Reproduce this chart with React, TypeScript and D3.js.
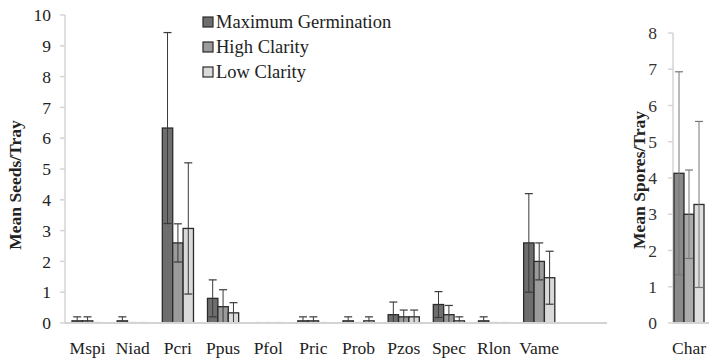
import * as d3 from 'd3'

const CATEGORIES = ['Mspi', 'Niad', 'Pcri', 'Ppus', 'Pfol', 'Pric', 'Prob', 'Pzos', 'Spec', 'Rlon', 'Vame']
const SERIES = ['Maximum Germination', 'High Clarity', 'Low Clarity']

// mean seeds per tray, one array per series
const MAX_GERM = [0.07, 0.07, 6.33, 0.8, 0, 0.07, 0.07, 0.27, 0.6, 0.07, 2.6]
const HIGH_CLAR = [0.07, 0, 2.6, 0.53, 0, 0.07, 0, 0.2, 0.27, 0, 2.0]
const LOW_CLAR = [0, 0, 3.07, 0.33, 0, 0, 0.07, 0.2, 0.07, 0, 1.47]
// error bar half-lengths
const MAX_GERM_ERR = [0.13, 0.13, 3.1, 0.6, 0, 0.13, 0.13, 0.41, 0.42, 0.13, 1.6]
const HIGH_CLAR_ERR = [0.13, 0, 0.62, 0.55, 0, 0.13, 0, 0.22, 0.3, 0, 0.6]
const LOW_CLAR_ERR = [0, 0, 2.13, 0.33, 0, 0, 0.13, 0.22, 0.13, 0, 0.86]

// spores panel
const SPORE_CATEGORIES = ['Char']
const SPORE_VALUES = [4.13, 3.0, 3.27]
const SPORE_ERR = [2.8, 1.22, 2.29]

const SEED_TICKS = [0, 1, 2, 3, 4, 5, 6, 7, 8, 9, 10]
const SPORE_TICKS = [0, 1, 2, 3, 4, 5, 6, 7, 8]

const COLORS = ['#6e6e6e', '#9b9b9b', '#dadada']
const SPORE_COLORS = ['#8a8a8a', '#ababab', '#dedede']
const AXIS = '#d4d4d4'
const txt = { fontFamily: "'Liberation Serif'", fill: '#222' }

type Scale = d3.ScaleLinear<number, number>

function Bars({ x0, vals, errs, ys, colors, inner, errColor }: {
  x0: number; vals: number[]; errs: number[]; ys: Scale; colors: string[]
  inner: d3.ScaleBand<string>; errColor: string
}) {
  const bw = inner.bandwidth()
  return (
    <g>
      {vals.map((v, si) => {
        const bx = x0 + (inner(SERIES[si]) ?? 0)
        if (v === 0) {
          return <line key={si} x1={bx + 2} x2={bx + bw - 2} y1={ys(0) - 0.5} y2={ys(0) - 0.5} stroke="#999" strokeWidth={1.2} />
        }
        const e = errs[si]
        const mx = bx + bw / 2
        return (
          <g key={si}>
            <rect x={bx} y={ys(v)} width={bw} height={ys(0) - ys(v)} fill={colors[si]} stroke="#2a2a2a" strokeWidth={1.3} />
            {e > 0 && (
              <g stroke={errColor}>
                <line x1={mx} x2={mx} y1={ys(v + e)} y2={ys(Math.max(0, v - e))} strokeWidth={1} />
                {[v + e, v - e].filter((ev) => ev > 0).map((ev, k) => (
                  <line key={k} x1={mx - 4} x2={mx + 4} y1={ys(ev)} y2={ys(ev)} strokeWidth={1.2} />
                ))}
              </g>
            )}
          </g>
        )
      })}
    </g>
  )
}

export default function App() {
  const seedValues = [MAX_GERM, HIGH_CLAR, LOW_CLAR]
  const seedErrs = [MAX_GERM_ERR, HIGH_CLAR_ERR, LOW_CLAR_ERR]

  // left panel
  const y = d3.scaleLinear().domain([0, 10]).range([323, 15])
  const x = d3.scaleBand().domain(CATEGORIES).range([65, 561.8])
  const groupW = x.bandwidth() * 0.69
  const xi = d3.scaleBand().domain(SERIES).range([0, groupW])
  const baseEnd = x.range()[1] + x.bandwidth() // one empty slot after Vame

  // right panel
  const y2 = d3.scaleLinear().domain([0, 8]).range([323, 33])
  const x2 = d3.scaleBand().domain(SPORE_CATEGORIES).range([672, 706])
  const xi2 = d3.scaleBand().domain(SERIES).range([0, 30])

  return (
    <svg width={709} height={358} style={{ position: 'absolute', left: 0, top: 0, background: '#fff' }}>
      {/* left y axis */}
      <line x1={65} x2={65} y1={y(10)} y2={y(0)} stroke={AXIS} strokeWidth={1.5} />
      {SEED_TICKS.map((t) => (
        <g key={t}>
          <line x1={60} x2={65} y1={y(t)} y2={y(t)} stroke={AXIS} strokeWidth={1.5} />
          <text x={51} y={y(t)} dy="0.35em" textAnchor="end" fontSize={17.5} style={txt}>{t}</text>
        </g>
      ))}

      {CATEGORIES.map((c, ci) => (
        <g key={c}>
          <Bars
            x0={(x(c) ?? 0) + (x.bandwidth() - groupW) / 2}
            vals={seedValues.map((s) => s[ci])}
            errs={seedErrs.map((s) => s[ci])}
            ys={y} colors={COLORS} inner={xi} errColor="#3a3a3a"
          />
          <text x={(x(c) ?? 0) + x.bandwidth() / 2} y={354} textAnchor="middle" fontSize={17.5} style={txt}>{c}</text>
        </g>
      ))}
      <line x1={65} x2={baseEnd} y1={y(0)} y2={y(0)} stroke={AXIS} strokeWidth={2} />

      <text transform="translate(21,185) rotate(-90)" textAnchor="middle" fontSize={17.5} fontWeight={700} style={txt}>
        Mean Seeds/Tray
      </text>

      {/* legend */}
      {SERIES.map((s, i) => (
        <g key={s}>
          <rect x={203} y={17 + i * 25} width={10} height={10} fill={COLORS[i]} stroke="#2a2a2a" strokeWidth={1.2} />
          <text x={216} y={28 + i * 25} fontSize={18.5} style={txt}>{s}</text>
        </g>
      ))}

      {/* right panel */}
      <line x1={673} x2={673} y1={y2(8)} y2={y2(0)} stroke={AXIS} strokeWidth={1.5} />
      {SPORE_TICKS.map((t) => (
        <g key={t}>
          <line x1={668} x2={673} y1={y2(t)} y2={y2(t)} stroke={AXIS} strokeWidth={1.5} />
          <text x={657} y={y2(t)} dy="0.35em" textAnchor="end" fontSize={17.5} style={{ ...txt, fill: '#333' }}>{t}</text>
        </g>
      ))}
      {SPORE_CATEGORIES.map((c) => (
        <g key={c}>
          <Bars
            x0={(x2(c) ?? 0) + (x2.bandwidth() - 30) / 2}
            vals={SPORE_VALUES} errs={SPORE_ERR}
            ys={y2} colors={SPORE_COLORS} inner={xi2} errColor="#777"
          />
          <text x={(x2(c) ?? 0) + x2.bandwidth() / 2} y={354} textAnchor="middle" fontSize={17.5} style={txt}>{c}</text>
        </g>
      ))}
      <line x1={673} x2={709} y1={y2(0)} y2={y2(0)} stroke={AXIS} strokeWidth={2} />

      <text transform="translate(645,180) rotate(-90)" textAnchor="middle" fontSize={17.5} fontWeight={700} style={txt}>
        Mean Spores/Tray
      </text>
    </svg>
  )
}
